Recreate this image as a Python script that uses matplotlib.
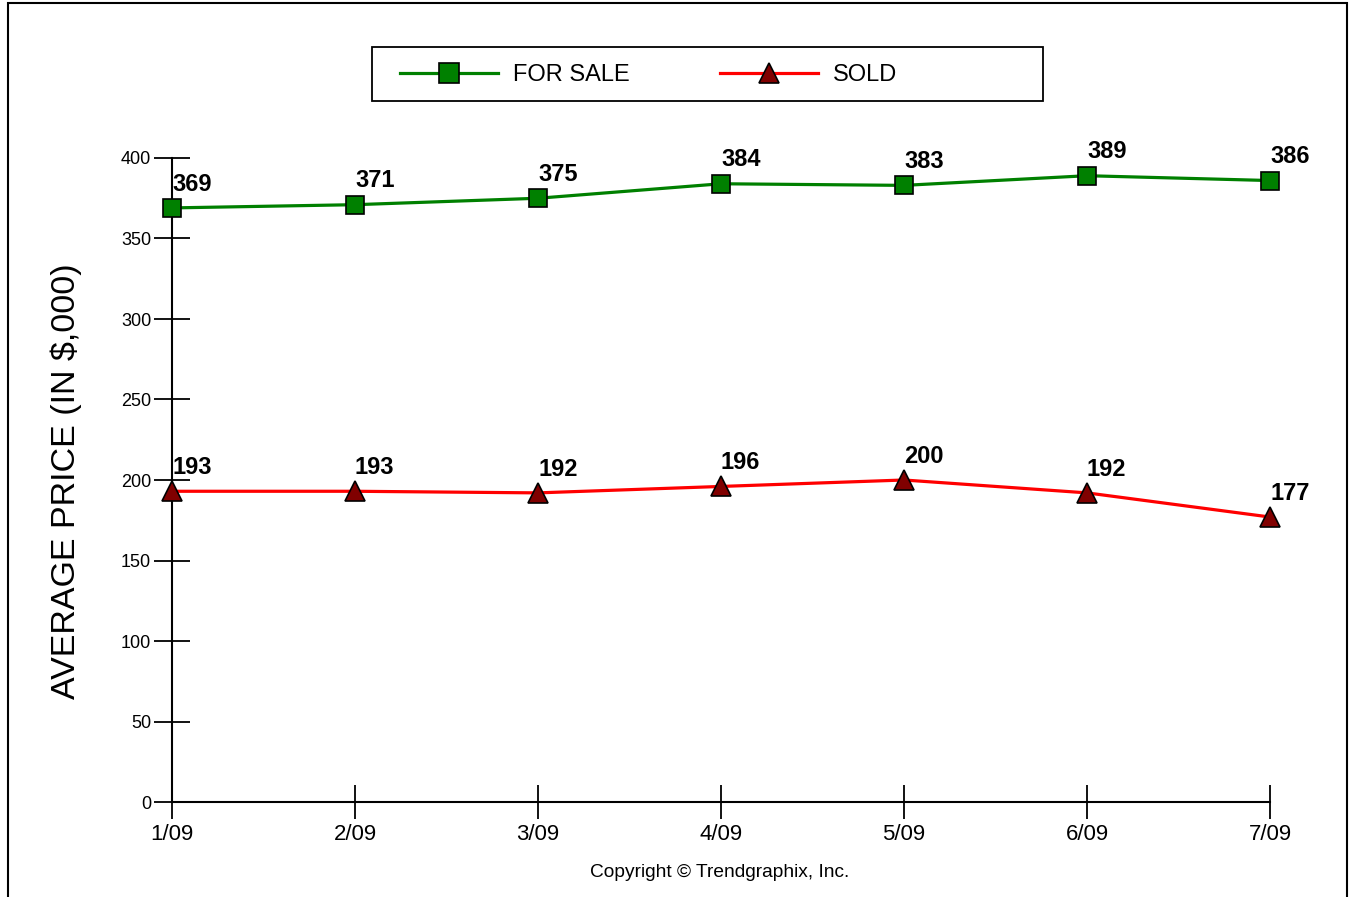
import matplotlib
matplotlib.use("Agg")
import matplotlib.pyplot as plt
from matplotlib.lines import Line2D
from matplotlib.patches import Rectangle

months = ["1/09", "2/09", "3/09", "4/09", "5/09", "6/09", "7/09"]
for_sale = [369, 371, 375, 384, 383, 389, 386]
sold = [193, 193, 192, 196, 200, 192, 177]
y_ticks = [0, 50, 100, 150, 200, 250, 300, 350, 400]

W, H = 1351, 897
NARROW = ["Liberation Sans Narrow", "Liberation Sans", "DejaVu Sans"]
plt.rcParams["font.family"] = ["Liberation Sans", "DejaVu Sans"]

fig = plt.figure(figsize=(W / 100, H / 100), dpi=100)
ax = fig.add_axes([172 / W, 1 - 802 / H, (1270 - 172) / W, (802 - 158) / H])

x = list(range(len(months)))
green = "#008000"
red = "#FF0000"
ax.plot(x, for_sale, color=green, lw=2.3, marker="s", ms=13.5,
        mfc=green, mec="black", mew=1.2, clip_on=False, zorder=3)
ax.plot(x, sold, color=red, lw=2.3, marker="^", ms=14,
        mfc="#800000", mec="black", mew=1.2, clip_on=False, zorder=3)

for xi, v in zip(x, for_sale):
    ax.annotate(str(v), (xi, v), xytext=(0, 12.5), textcoords="offset points",
                ha="left", va="baseline", fontsize=17, fontweight="bold",
                annotation_clip=False, zorder=4)
for xi, v in zip(x, sold):
    ax.annotate(str(v), (xi, v), xytext=(0, 12.5), textcoords="offset points",
                ha="left", va="baseline", fontsize=17, fontweight="bold",
                annotation_clip=False, zorder=4)

ax.set_xlim(0, 6)
ax.set_ylim(0, 400)
ax.set_xticks(x)
ax.set_xticklabels(months, fontfamily=NARROW, fontsize=16)
ax.set_yticks(y_ticks)
ax.set_yticklabels([str(t) for t in y_ticks], fontfamily=NARROW, fontsize=13)
for s in ("top", "right"):
    ax.spines[s].set_visible(False)
for s in ("left", "bottom"):
    ax.spines[s].set_linewidth(1.5)
ax.tick_params(axis="y", direction="inout", length=26, width=1.3, pad=2)
ax.tick_params(axis="x", direction="inout", length=24, width=1.3, pad=4)

fig.text(66 / W, 1 - 481 / H, "AVERAGE PRICE (IN $,000)", rotation=90,
         ha="center", va="center", fontsize=24.5)
fig.text(720 / W, 1 - 872 / H, "Copyright \u00a9 Trendgraphix, Inc.",
         ha="center", va="center", fontsize=13.8, fontfamily=NARROW)

# outer frame
fig.patches.append(Rectangle((8 / W, -0.05), (1347 - 8) / W, 1 - 3 / H + 0.05,
                             transform=fig.transFigure, fill=False,
                             edgecolor="black", lw=1.5, clip_on=False))
# legend box
fig.patches.append(Rectangle((372 / W, 1 - 101 / H), (1043 - 372) / W, 54 / H,
                             transform=fig.transFigure, fill=False,
                             edgecolor="black", lw=1.3))

h1 = Line2D([], [], color=green, lw=2.3, marker="s", ms=14, mfc=green,
            mec="black", mew=1.2)
h2 = Line2D([], [], color=red, lw=2.3, marker="^", ms=15, mfc="#800000",
            mec="black", mew=1.2)
for h, lab, x0 in ((h1, "FOR SALE", 400), (h2, "SOLD", 720)):
    fig.legend([h], [lab], loc="center left",
               bbox_to_anchor=(x0 / W, 1 - 75 / H), frameon=False,
               borderpad=0, borderaxespad=0, handlelength=4.15,
               handletextpad=0.65, prop={"size": 17})

fig.savefig("out.png", dpi=100)
